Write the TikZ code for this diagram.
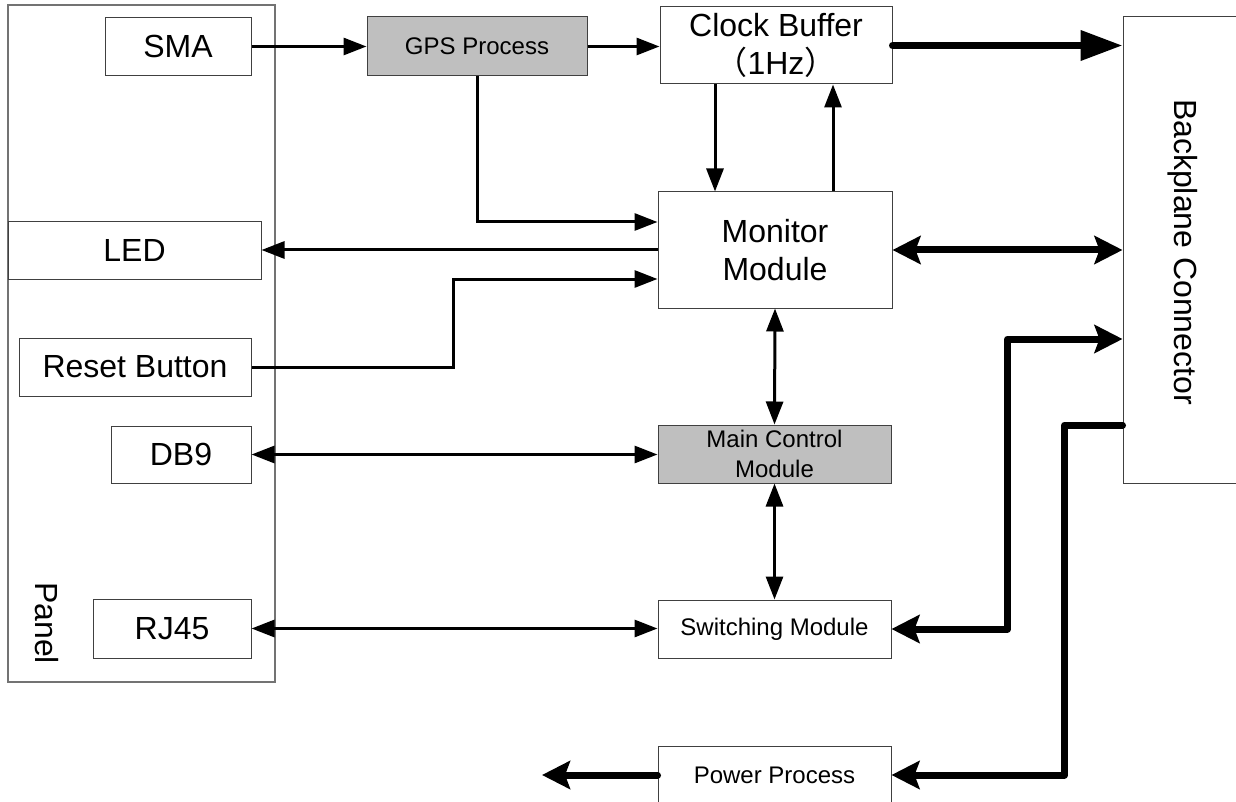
\documentclass[tikz,border=0pt]{standalone}
\usepackage{fontspec}
\setmainfont{Liberation Sans}
\newfontfamily\cjkfont{Noto Sans CJK SC}
\usetikzlibrary{arrows.meta,calc}
\newcommand\largelbl{\fontsize{32}{38}\selectfont}
\newcommand\smalllbl{\fontsize{24}{30}\selectfont}
\begin{document}
\begin{tikzpicture}[x=1pt,y=-1pt,
  box/.style={draw=black!75,line width=1pt,inner sep=0pt,align=center,font=\largelbl},
  smallbox/.style={box,font=\smalllbl},
  grey/.style={fill=black!25},
  panelbox/.style={draw=black!55,line width=1.4pt,inner sep=0pt},
  sig/.style={line width=3pt,-{Triangle[length=23pt,width=17pt]}},
  bisig/.style={line width=3pt,{Triangle[length=23pt,width=17pt]}-{Triangle[length=23pt,width=17pt]}},
  bus/.style={line width=7pt,line cap=round,line join=round},
  bushead/.style={-{Stealth[length=28pt,width=28pt,inset=5pt]}},
  bibushead/.style={{Stealth[length=28pt,width=28pt,inset=5pt]}-{Stealth[length=28pt,width=28pt,inset=5pt]}},
  bigbushead/.style={-{Triangle[length=42pt,width=29pt]}}]
\useasboundingbox (0,0) rectangle (1236,802);
\clip (0,0) rectangle (1236,802);

% front panel and its connectors
\node[panelbox,minimum width=267,minimum height=677] (panel) at (141.5,343.5) {};
\node[rotate=-90,font=\largelbl] (paneltext) at (47,623) {Panel};
\node[box,minimum width=146,minimum height=58] (sma) at (178,46.5) {SMA};
\node[box,minimum width=253,minimum height=57] (led) at (134.5,250.5) {LED};
\node[box,minimum width=232,minimum height=58] (reset) at (135,367) {Reset Button};
\node[box,minimum width=140,minimum height=57] (db9) at (181,454.5) {DB9};
\node[box,minimum width=158,minimum height=59] (rj45) at (172,628.5) {RJ45};

% processing blocks
\node[smallbox,grey,minimum width=220,minimum height=59] (gps) at (477,46.5) {GPS Process};
\node[box,minimum width=232,minimum height=77] (clock) at (776,45.5) {Clock Buffer\\{\cjkfont （}1Hz{\cjkfont ）}};
\node[box,minimum width=234,minimum height=116] (monitor) at (775,250) {Monitor\\Module};
\node[smallbox,grey,minimum width=233,minimum height=58] (main) at (774.5,454) {Main Control\\Module};
\node[smallbox,minimum width=233,minimum height=58] (switch) at (774.5,629) {Switching Module};
\node[smallbox,minimum width=233,minimum height=58] (power) at (774.5,775) {Power Process};

% backplane connector
\node[box,minimum width=127,minimum height=466] (bp) at (1186.5,250) {};
\node[rotate=-90,font=\largelbl] (bptext) at (1183,252) {Backplane Connector};

% signal lines
\draw[sig] (sma.east) -- (sma.east -| gps.west);
\draw[sig] (gps.east) -- (gps.east -| clock.west);
\draw[sig] ([xshift=-61pt]clock.south) -- ([xshift=-60pt]monitor.north);
\draw[sig] ([xshift=58pt]monitor.north) -- ([xshift=57pt]clock.south);
\draw[sig] (gps.south) |- ($(monitor.west)+(0,-28)$);
\draw[sig] (monitor.west) -- (monitor.west -| led.east);
\draw[sig] (reset.east) -| ($(monitor.west)+(-204,29)$) -- ($(monitor.west)+(0,29)$);
\draw[bisig] (db9.east) -- (db9.east -| main.west);
\draw[bisig] (rj45.east) -- (rj45.east -| switch.west);
\draw[bisig] (monitor.south) -- (main.north);
\draw[bisig] (main.south) -- (switch.north);

% backplane buses
\coordinate (pwrout) at (542,775);
\draw[bus,bigbushead] (clock.east) -- (clock.east -| bp.west);
\draw[bus,bibushead] (monitor.east) -- (monitor.east -| bp.west);
\draw[bus,bibushead] (switch.east) -- ++(116,0) |- ($(bp.west)+(0,89)$);
\draw[bus,bushead] ($(bp.west)+(0,175)$) -- ++(-58,0) |- (power.east);
\draw[bus,bushead] (power.west) -- (pwrout);
\end{tikzpicture}
\end{document}
